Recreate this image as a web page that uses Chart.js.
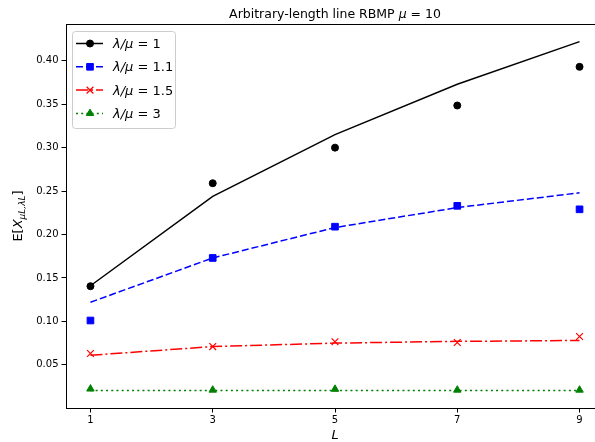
<!DOCTYPE html>
<html lang="en">
<head>
<meta charset="UTF-8" />
<title>Arbitrary-length line RBMP</title>
<script src="https://cdn.jsdelivr.net/npm/chart.js"></script>
<style>
  html, body { margin: 0; padding: 0; overflow: hidden; background: #fff; }
  #wrap { width: 610px; height: 442px; }
</style>
</head>
<body>
<div id="wrap"><canvas id="rbmp" width="610" height="442"></canvas></div>
<script>
  // x values (line length L)
  const lengths = [1, 3, 5, 7, 9];
  const ratioLabels = ['1', '1.1', '1.5', '3'];

  // analytic curves (lines)
  const theory1   = [0.141, 0.244, 0.315, 0.373, 0.422];
  const theory1_1 = [0.122, 0.173, 0.208, 0.231, 0.248];
  const theory1_5 = [0.061, 0.071, 0.075, 0.077, 0.078];
  const theory3   = [0.0204, 0.0204, 0.0204, 0.0204, 0.0204];

  // simulated values (markers)
  const sim1   = [0.1405, 0.259, 0.300, 0.3485, 0.393];
  const sim1_1 = [0.101, 0.173, 0.209, 0.233, 0.229];
  const sim1_5 = [0.063, 0.071, 0.0765, 0.0757, 0.0826];
  const sim3   = [0.0223, 0.021, 0.022, 0.021, 0.021];

  const yTicks = [0.05, 0.10, 0.15, 0.20, 0.25, 0.30, 0.35, 0.40];
  const xTicks = [1, 3, 5, 7, 9];

  const styles = [
    { color: '#000000', dash: [],                  marker: 'circle',   radius: 3.5 },
    { color: '#0000ff', dash: [7, 3],              marker: 'rect',     radius: 4.7 },
    { color: '#ff0000', dash: [12, 3, 2, 3],       marker: 'crossRot', radius: 4.8 },
    { color: '#008000', dash: [2, 3.2],            marker: 'triangle', radius: 4.3 }
  ];

  const theory = [theory1, theory1_1, theory1_5, theory3];
  const sims = [sim1, sim1_1, sim1_5, sim3];

  const toXY = vals => vals.map((v, i) => ({ x: lengths[i], y: v }));

  const datasets = [];
  theory.forEach((vals, i) => {
    datasets.push({
      data: toXY(vals),
      borderColor: styles[i].color,
      borderDash: styles[i].dash,
      borderWidth: 1.5,
      pointRadius: 0,
      fill: false,
      tension: 0
    });
  });
  sims.forEach((vals, i) => {
    datasets.push({
      data: toXY(vals),
      showLine: false,
      pointStyle: styles[i].marker,
      pointRadius: styles[i].radius,
      pointBackgroundColor: styles[i].color,
      pointBorderColor: styles[i].color,
      pointBorderWidth: styles[i].marker === 'crossRot' ? 1.2 : 1
    });
  });

  const FONT = "'DejaVu Sans', sans-serif";

  function drawRuns(ctx, runs, x, y, align) {
    let total = 0;
    runs.forEach(r => { ctx.font = r.f; total += ctx.measureText(r.t).width; });
    let cx = align === 'center' ? x - total / 2 : x;
    runs.forEach(r => {
      ctx.font = r.f;
      ctx.fillText(r.t, cx, y + (r.dy || 0));
      cx += ctx.measureText(r.t).width;
    });
  }

  const decorations = {
    id: 'decorations',
    afterDraw(chart) {
      const ctx = chart.ctx;
      const a = chart.chartArea;
      ctx.save();
      // frame
      ctx.strokeStyle = '#000';
      ctx.lineWidth = 1;
      ctx.setLineDash([]);
      ctx.strokeRect(a.left + 0.5, a.top + 0.5, a.right - a.left, a.bottom - a.top);

      ctx.fillStyle = '#000';
      ctx.textBaseline = 'alphabetic';
      const midX = 335;
      // title
      drawRuns(ctx, [
        { t: 'Arbitrary-length line RBMP ', f: '12.5px ' + FONT },
        { t: 'μ', f: 'italic 12.5px ' + FONT },
        { t: ' = 10', f: '12.5px ' + FONT }
      ], midX, 17.5, 'center');
      // x label
      drawRuns(ctx, [{ t: 'L', f: 'italic 13px ' + FONT }], midX, 439, 'center');
      // y label
      ctx.save();
      ctx.translate(22, (a.top + a.bottom) / 2);
      ctx.rotate(-Math.PI / 2);
      drawRuns(ctx, [
        { t: 'E[', f: '13px ' + FONT },
        { t: 'X', f: 'italic 13px ' + FONT },
        { t: 'μL,λL', f: 'italic 9px ' + FONT, dy: 3 },
        { t: ']', f: '13px ' + FONT }
      ], 0, 0, 'center');
      ctx.restore();

      // legend
      const bx = 72.5, by = 31.5, bw = 103, bh = 97;
      ctx.beginPath();
      ctx.roundRect(bx, by, bw, bh, 3);
      ctx.fillStyle = 'rgba(255,255,255,0.8)';
      ctx.fill();
      ctx.strokeStyle = '#cccccc';
      ctx.stroke();
      const rows = [43.5, 66.8, 90.1, 113.4];
      rows.forEach((ry, i) => {
        const s = styles[i];
        ctx.strokeStyle = s.color;
        ctx.fillStyle = s.color;
        ctx.lineWidth = 1.5;
        ctx.setLineDash(s.dash);
        ctx.beginPath();
        ctx.moveTo(76, ry);
        ctx.lineTo(103, ry);
        ctx.stroke();
        ctx.setLineDash([]);
        ctx.lineWidth = s.marker === 'crossRot' ? 1.2 : 1;
        Chart.helpers.drawPoint(ctx, { pointStyle: s.marker, radius: s.radius, borderWidth: ctx.lineWidth, rotation: 0 }, 90, ry);
        ctx.fillStyle = '#000';
        drawRuns(ctx, [
          { t: 'λ/μ', f: 'italic 13px ' + FONT },
          { t: ' = ' + ratioLabels[i], f: '13px ' + FONT }
        ], 113, ry + 4.5, 'left');
      });
      ctx.restore();
    }
  };

  new Chart(document.getElementById('rbmp'), {
    type: 'line',
    data: { datasets },
    plugins: [decorations],
    options: {
      responsive: false,
      animation: false,
      layout: { padding: { top: 24, right: 6, bottom: 0, left: 0 } },
      plugins: { legend: { display: false }, tooltip: { enabled: false } },
      scales: {
        x: {
          type: 'linear',
          min: 0.6,
          max: 9.4,
          afterBuildTicks: s => { s.ticks = xTicks.map(v => ({ value: v })); },
          afterFit: s => { s.height = 34; },
          border: { display: false },
          grid: { drawOnChartArea: false, drawTicks: true, tickLength: 4.5, color: '#000' },
          ticks: { color: '#000', padding: 2, font: { family: FONT, size: 10 }, callback: v => String(v) }
        },
        y: {
          min: 0.0003,
          max: 0.4423,
          afterBuildTicks: s => { s.ticks = yTicks.map(v => ({ value: v })); },
          afterFit: s => { s.width = 66; },
          border: { display: false },
          grid: { drawOnChartArea: false, drawTicks: true, tickLength: 4.5, color: '#000' },
          ticks: { color: '#000', padding: 3, font: { family: FONT, size: 10 }, callback: v => v.toFixed(2) }
        }
      }
    }
  });
</script>
</body>
</html>
